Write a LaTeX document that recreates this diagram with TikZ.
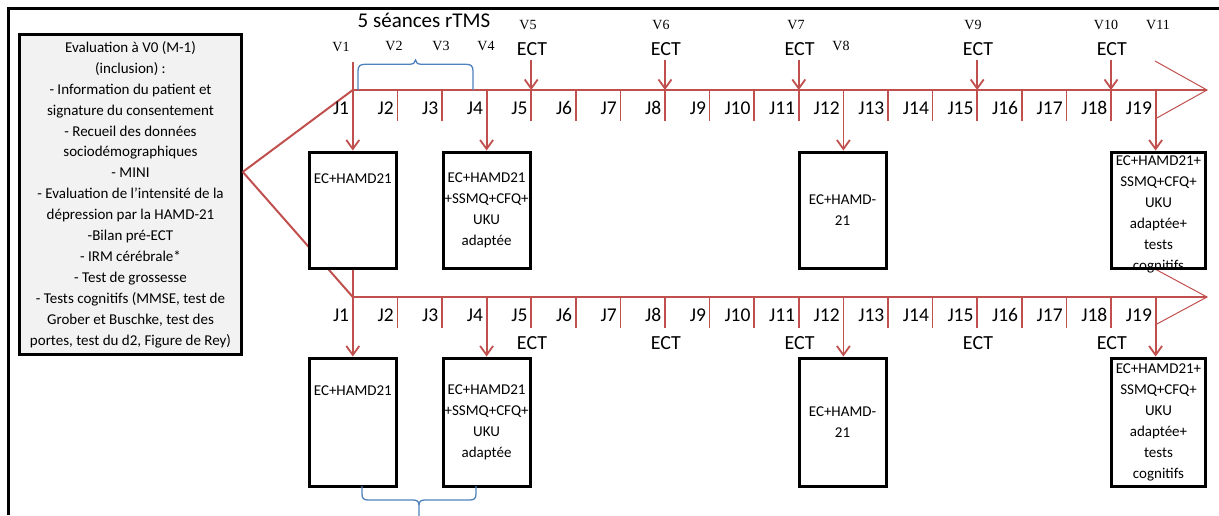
\documentclass[tikz,border=0pt]{standalone}
\usepackage{fontspec}
\setmainfont{Carlito}
\newfontfamily\timesf{Liberation Serif}
\usetikzlibrary{arrows.meta,calc}
\definecolor{tred}{HTML}{C0504D}
\definecolor{tblue}{HTML}{4F81BD}
\definecolor{boxgray}{HTML}{F2F2F2}
\begin{document}
\begin{tikzpicture}[x=1pt,y=-1pt,
  tl/.style={draw=tred, line width=2pt},
  tickln/.style={draw=tred, line width=1.6pt},
  arr/.style={draw=tred, line width=1.8pt, -{Straight Barb[length=9pt,width=13pt]}},
  headln/.style={draw=tred, line width=1pt},
  evbox/.style={draw=black, line width=3pt, fill=white, minimum width=87pt, inner sep=0pt,
    font=\fontsize{15}{21}\selectfont, align=center, anchor=north},
  btext/.style={inner sep=0pt, font=\fontsize{15}{21}\selectfont, align=center},
  jlab/.style={font=\fontsize{19.5}{20}\selectfont, anchor=east, inner sep=0pt},
  ectlab/.style={font=\fontsize{20}{20}\selectfont, inner sep=0pt},
  vlab/.style={font=\timesf\fontsize{14}{14}\selectfont, inner sep=0pt},
  bracepath/.style={draw=tblue, line width=1.3pt}
]
\useasboundingbox (0,0) rectangle (1219,515);
% outer frame (top and left only)
\draw[black, line width=2.6pt] (8.5,515) -- (8.5,8.7) -- (1219,8.7);

% left grey box
\node[draw=black, line width=2.6pt, fill=boxgray, minimum width=222pt, minimum height=320pt,
  inner sep=0pt, align=center, font=\fontsize{15}{20.9}\selectfont] (gb) at (130.5,194.5)
  {Evaluation à V0 (M-1)\\(inclusion) :\\- Information du patient et\\signature du consentement\\- Recueil des données\\sociodémographiques\\- MINI\\- Evaluation de l’intensité de la\\dépression par la HAMD-21\\-Bilan pré-ECT\\- IRM cérébrale*\\- Test de grossesse\\- Tests cognitifs (MMSE, test de\\Grober et Buschke, test des\\portes, test du d2, Figure de Rey)};
\coordinate (gp) at ($(gb.north east)!0.43!(gb.south east)$);

% coordinates of the two time lines
\foreach \k in {0,...,18} {
  \coordinate (a\k) at ({352.8+44.6*\k},90);
  \coordinate (c\k) at ({352.8+44.6*\k},297);
}
\coordinate (atip) at (1207,90);
\coordinate (ctip) at (1207,297);
\coordinate (ahu) at (1155,61);
\coordinate (ahl) at (1155,119);
\coordinate (chu) at (1155,269);
\coordinate (chl) at (1155,325);
\coordinate (v1top) at (352.8,62);

% red lines from the grey box
\draw[tl] (gp) -- (a0);
\draw[tl] (gp) -- (c0);

% time lines
\draw[tl] (a0) -- (atip);
\draw[tl] (c0) -- (ctip);
\draw[headln] (ahu) -- (atip) -- (ahl);
\draw[headln] (chu) -- (ctip) -- (chl);
\foreach \k in {1,...,18} {
  \draw[tickln] (a\k) -- ++(0,31);
  \draw[tickln] (c\k) -- ++(0,31);
}
\foreach \n [evaluate=\n as \m using int(\n-1)] in {1,...,19} {
  \node[jlab] (ja\n) at ($(a\m)+(-3.5,18)$) {J\n};
  \node[jlab] (jc\n) at ($(c\m)+(-3.5,18)$) {J\n};
}

% boxes, top row
\node[evbox, minimum height=116pt] (b1) at (352.8,150.5) {EC+HAMD21\\\mbox{}\\\mbox{}\\\mbox{}};
\node[evbox, minimum height=116pt] (b2) at (486.6,150.5) {EC+HAMD21\\+SSMQ+CFQ+\\UKU\\adaptée};
\node[evbox, minimum height=116pt] (b3) at (842.5,150.5) {EC+HAMD-\\21};
\node[evbox, minimum height=116pt, minimum width=94pt] (b4) at (1158.5,150.5) {};
\node[btext] (b4t) at ($(b4.center)+(0,4)$) {EC+HAMD21+\\SSMQ+CFQ+\\UKU\\adaptée+\\tests\\cognitifs};
% boxes, bottom row
\node[evbox, minimum height=128pt] (b5) at (352.8,356.5) {EC+HAMD21\\\mbox{}\\\mbox{}\\\mbox{}};
\node[evbox, minimum height=128pt] (b6) at (486.6,356.5) {EC+HAMD21\\+SSMQ+CFQ+\\UKU\\adaptée};
\node[evbox, minimum height=128pt] (b7) at (842.5,356.5) {EC+HAMD-\\21};
\node[evbox, minimum height=128pt, minimum width=94pt] (b8) at (1158.5,356.5) {EC+HAMD21+\\SSMQ+CFQ+\\UKU\\adaptée+\\tests\\cognitifs};

% arrows to boxes
\draw[arr] (v1top) -- (b1.north);
\draw[arr] (a3) -- (a3 |- b2.north);
\draw[arr] (a11) -- (a11 |- b3.north);
\draw[arr] (a18) -- (a18 |- b4.north);
\draw[tl] (b1.south) -- (c0);
\draw[arr] (c0) -- (b5.north);
\draw[arr] (c3) -- (c3 |- b6.north);
\draw[arr] (c11) -- (c11 |- b7.north);
\draw[arr] (c18) -- (c18 |- b8.north);

% ECT top with arrows
\foreach \k/\nm in {4/e1,7/e2,10/e3,14/e4,17/e5} {
  \node[ectlab] (\nm) at ($(a\k)+(0.8,-41)$) {ECT};
  \draw[arr] (a\k |- 0,60) -- (a\k);
  \node[ectlab] (\nm b) at ($(c\k)+(0.8,46)$) {ECT};
}

% V labels
\node[vlab] (V1) at (341,47) {V1};
\node[vlab] (V2) at (394,46) {V2};
\node[vlab] (V3) at (441,46) {V3};
\node[vlab] (V4) at (486,46) {V4};
\node[vlab] (V5) at (528,25) {V5};
\node[vlab] (V6) at (661,25) {V6};
\node[vlab] (V7) at (796,25) {V7};
\node[vlab] (V8) at (841,46) {V8};
\node[vlab] (V9) at (973,25) {V9};
\node[vlab] (V10) at (1106,25) {V10};
\node[vlab] (V11) at (1158,25) {V11};

\node[font=\fontsize{21}{21}\selectfont, inner sep=0pt] (rtms) at (424,20) {5 séances rTMS};

% braces
\draw[bracepath] (358,90) -- (358,71) .. controls (358,66) and (360,64.3) .. (365,64.3)
  -- (409,64.3) .. controls (413,64.3) and (415.5,63) .. (415.5,60)
  .. controls (415.5,63) and (418,64.3) .. (422,64.3) -- (466,64.3)
  .. controls (471,64.3) and (473,66) .. (473,71) -- (473,90);
\draw[bracepath] (362,486) -- (362,494) .. controls (362,498.5) and (364,500) .. (368,500)
  -- (413,500) .. controls (417,500) and (419,501.5) .. (419,505) -- (419,516);
\draw[bracepath] (419,505) .. controls (419,501.5) and (421,500) .. (425,500)
  -- (470,500) .. controls (474,500) and (476,498.5) .. (476,494) -- (476,486);
\end{tikzpicture}
\end{document}
